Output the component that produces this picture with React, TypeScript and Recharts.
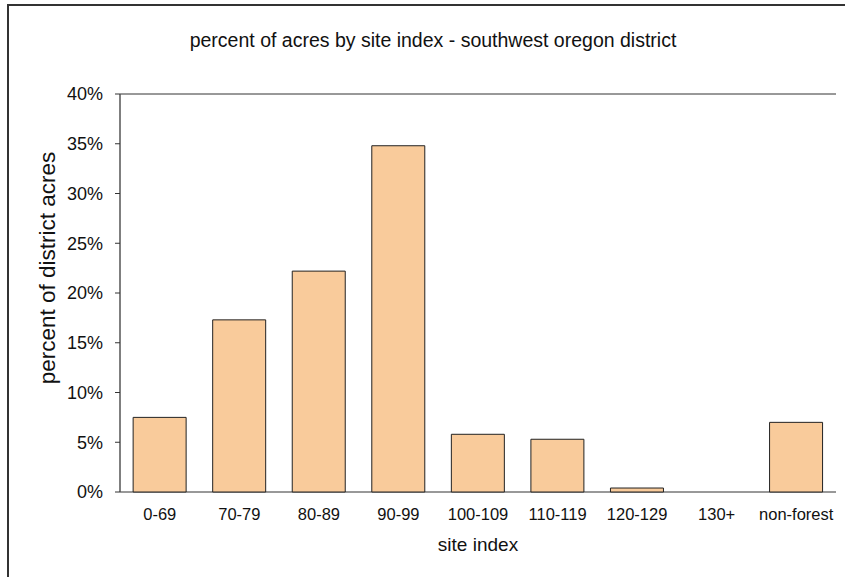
import React from 'react';
import { BarChart, Bar, XAxis, YAxis, CartesianGrid } from 'recharts';

// site index classes and share of district acres (%)
const siteClasses = ['0-69', '70-79', '80-89', '90-99', '100-109', '110-119', '120-129', '130+', 'non-forest'];
const percentAcres = [7.5, 17.3, 22.2, 34.8, 5.8, 5.3, 0.4, 0, 7.0];
const yTicks = [0, 5, 10, 15, 20, 25, 30, 35, 40];
const boundaryTicks = [0, 1, 2, 3, 4, 5, 6, 7, 8, 9];

const data = siteClasses.map((name, i) => ({ name, value: percentAcres[i] }));

const font = '"Liberation Sans", Arial, sans-serif';

export default function App() {
  return (
    <div
      style={{
        position: 'fixed',
        left: 0,
        top: 0,
        width: 845,
        height: 577,
        overflow: 'hidden',
        background: '#fff',
        fontFamily: font,
      }}
    >
      {/* outer chart frame, cut off on the right and bottom */}
      <div
        style={{
          position: 'absolute',
          left: 7,
          top: 4,
          width: 900,
          height: 700,
          border: '2px solid #333',
        }}
      />

      <BarChart
        width={845}
        height={577}
        data={data}
        margin={{ top: 94, right: 9, bottom: 0, left: 0 }}
        barCategoryGap="16.5%"
        style={{ position: 'absolute', left: 0, top: 0 }}
      >
        <CartesianGrid vertical={false} stroke="#333" strokeWidth={1} />
        <XAxis
          xAxisId="edges"
          type="number"
          domain={[0, 9]}
          ticks={boundaryTicks}
          tickFormatter={() => ''}
          height={0}
          tickSize={6}
          stroke="#333"
          tickLine={{ stroke: '#333' }}
          axisLine={{ stroke: '#333' }}
        />
        <XAxis
          xAxisId="cat"
          dataKey="name"
          height={85}
          axisLine={false}
          tickLine={false}
          tickSize={0}
          tickMargin={16}
          interval={0}
          tick={{ fill: '#111', fontSize: 16.5, fontFamily: font }}
        />
        <YAxis
          yAxisId="left"
          domain={[0, 40]}
          ticks={yTicks}
          width={120}
          tickSize={5}
          tickMargin={12}
          tickFormatter={(v) => `${v}%`}
          axisLine={{ stroke: '#555', strokeWidth: 1.5 }}
          tickLine={{ stroke: '#333' }}
          tick={{ fill: '#111', fontSize: 18, fontFamily: font }}
        />
        <YAxis
          yAxisId="right"
          orientation="right"
          domain={[0, 40]}
          width={0}
          tick={false}
          tickLine={false}
          axisLine={{ stroke: '#999' }}
        />
        <Bar
          xAxisId="cat"
          yAxisId="left"
          dataKey="value"
          fill="#F9CB9B"
          stroke="#222"
          strokeWidth={1}
          isAnimationActive={false}
        />
      </BarChart>

      <div
        style={{
          position: 'absolute',
          left: 433,
          top: 40,
          transform: 'translate(-50%, -50%)',
          whiteSpace: 'nowrap',
          fontSize: 19.5,
          color: '#111',
        }}
      >
        percent of acres by site index - southwest oregon district
      </div>
      <div
        style={{
          position: 'absolute',
          left: 48,
          top: 268,
          transform: 'translate(-50%, -50%) rotate(-90deg)',
          whiteSpace: 'nowrap',
          fontSize: 22.5,
          color: '#111',
        }}
      >
        percent of district acres
      </div>
      <div
        style={{
          position: 'absolute',
          left: 478,
          top: 545,
          transform: 'translate(-50%, -50%)',
          whiteSpace: 'nowrap',
          fontSize: 19,
          color: '#111',
        }}
      >
        site index
      </div>
    </div>
  );
}
